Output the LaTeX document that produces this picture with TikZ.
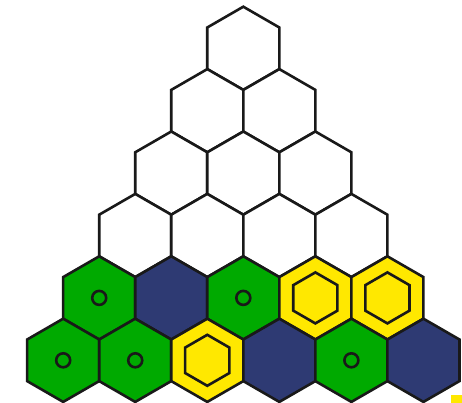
\documentclass[tikz,border=0pt]{standalone}
\usetikzlibrary{shapes.geometric}
\definecolor{hgreen}{RGB}{0,170,0}
\definecolor{hnavy}{RGB}{46,58,115}
\definecolor{hyellow}{RGB}{255,232,0}
\tikzset{
  hexcell/.style={regular polygon, regular polygon sides=6, shape border rotate=30, minimum size=83.2pt,
    inner sep=0pt, outer sep=0pt, draw=black!90, line width=2.6pt, line join=miter},
  whitehex/.style={hexcell, fill=white},
  greenhex/.style={hexcell, fill=hgreen},
  navyhex/.style={hexcell, fill=hnavy},
  yellowhex/.style={hexcell, fill=hyellow},
  innerhex/.style={regular polygon, regular polygon sides=6, shape border rotate=30, minimum size=51pt,
    inner sep=0pt, outer sep=0pt, draw=black!90, line width=2.6pt},
  dotring/.style={circle, minimum size=14pt, inner sep=0pt, draw=black!90, line width=2.6pt}
}
\begin{document}
\begin{tikzpicture}[x=1pt,y=1pt]
\useasboundingbox (0,0) rectangle (462,-403);
% white rows 0..3
\foreach \k in {0,...,3}{
  \foreach \j in {0,...,\k}{
    \node[whitehex] (h-\k-\j) at ({243.3+72.05*(\j-\k/2)}, {-(48.3+62.4*\k)}) {};
  }
}
% row 4
\def\ya{-297.9}
\node[greenhex]  (h-4-0) at ({243.3+72.05*(0-2)}, \ya) {};
\node[navyhex]   (h-4-1) at ({243.3+72.05*(1-2)}, \ya) {};
\node[greenhex]  (h-4-2) at ({243.3+72.05*(2-2)}, \ya) {};
\node[yellowhex] (h-4-3) at ({243.3+72.05*(3-2)}, \ya) {};
\node[yellowhex] (h-4-4) at ({243.3+72.05*(4-2)}, \ya) {};
% row 5
\def\yb{-360.3}
\node[greenhex]  (h-5-0) at ({243.3+72.05*(0-2.5)}, \yb) {};
\node[greenhex]  (h-5-1) at ({243.3+72.05*(1-2.5)}, \yb) {};
\node[yellowhex] (h-5-2) at ({243.3+72.05*(2-2.5)}, \yb) {};
\node[navyhex]   (h-5-3) at ({243.3+72.05*(3-2.5)}, \yb) {};
\node[greenhex]  (h-5-4) at ({243.3+72.05*(4-2.5)}, \yb) {};
\node[navyhex]   (h-5-5) at ({243.3+72.05*(5-2.5)}, \yb) {};
% markers
\node[dotring] (c-4-0) at (h-4-0.center) {};
\node[dotring] (c-4-2) at (h-4-2.center) {};
\node[dotring] (c-5-0) at (h-5-0.center) {};
\node[dotring] (c-5-1) at (h-5-1.center) {};
\node[dotring] (c-5-4) at (h-5-4.center) {};
\node[innerhex] (i-4-3) at (h-4-3.center) {};
\node[innerhex] (i-4-4) at (h-4-4.center) {};
\node[innerhex] (i-5-2) at (h-5-2.center) {};
% small yellow square
\fill[hyellow] (451,-394.5) rectangle (462,-403);
\end{tikzpicture}
\end{document}
